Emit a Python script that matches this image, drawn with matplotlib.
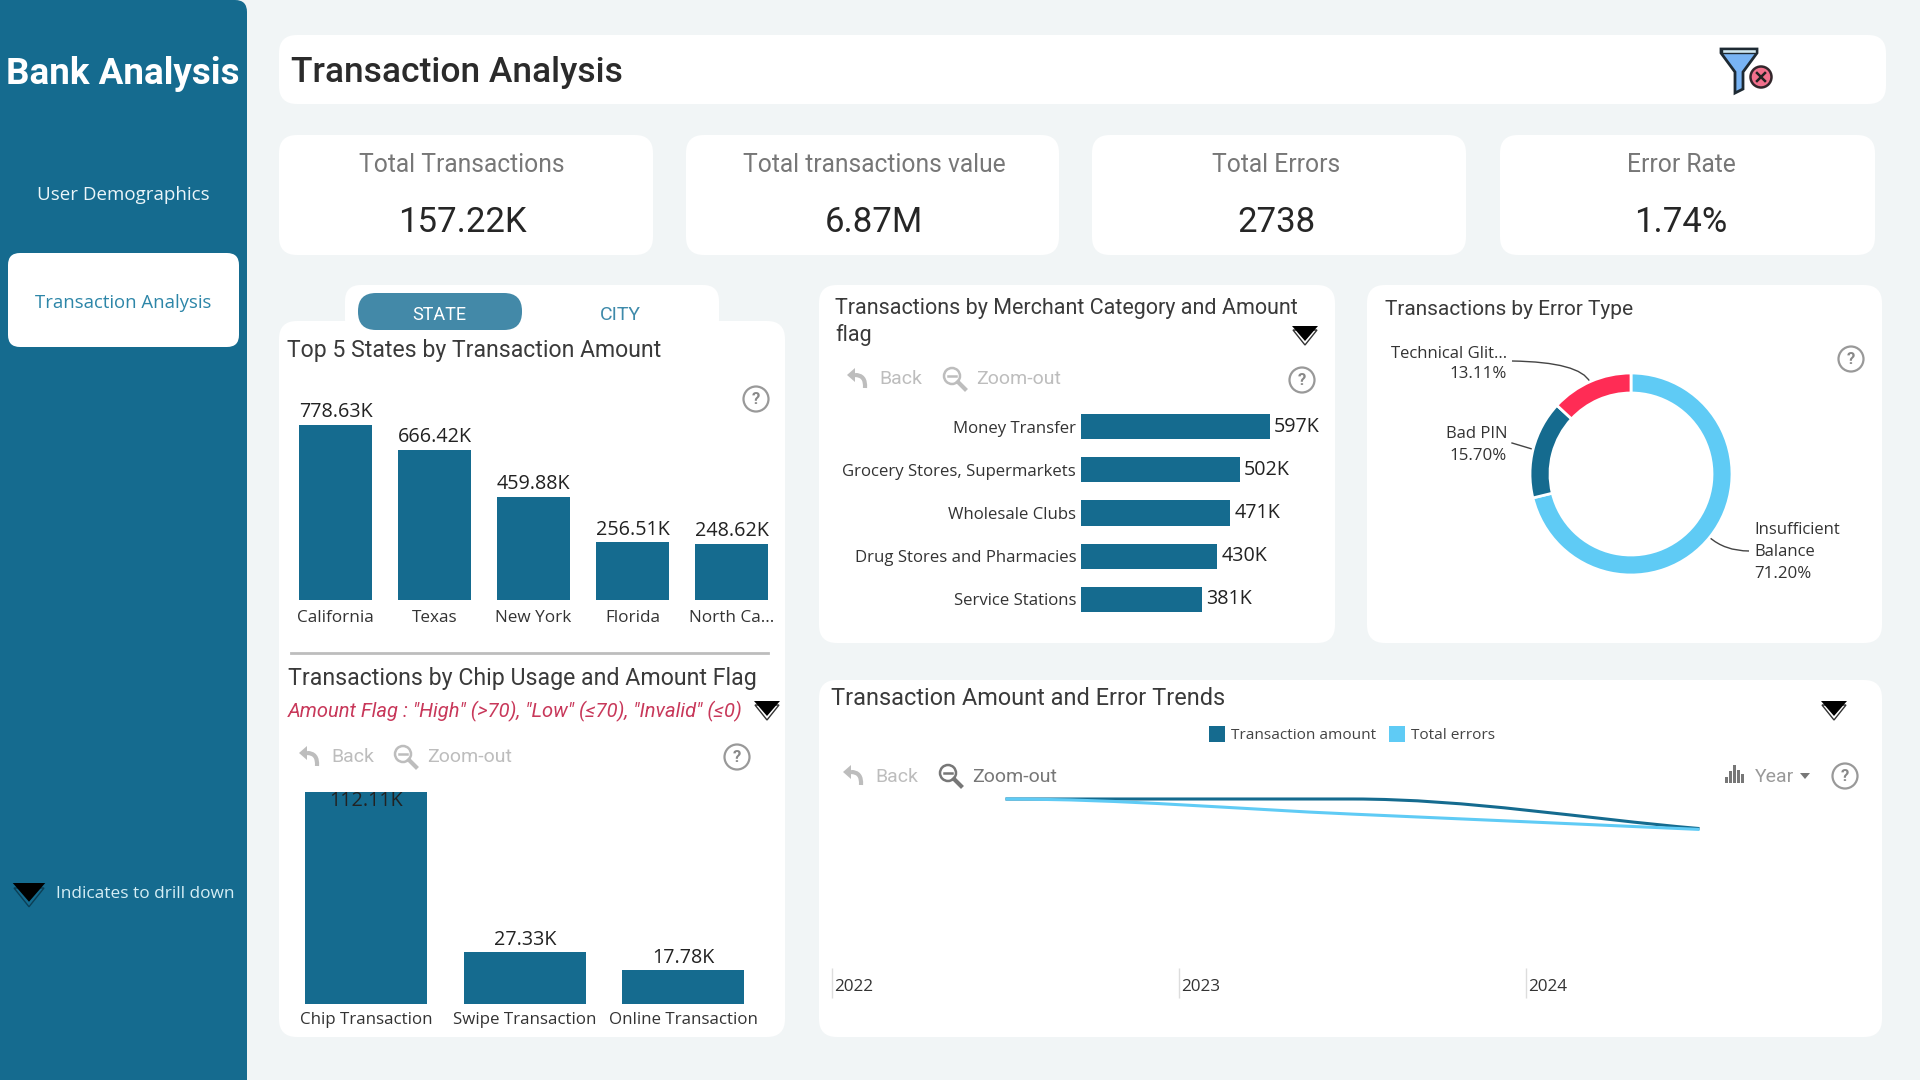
#bank transaction dashboard
import numpy
import matplotlib
matplotlib.use('Agg')
import matplotlib.pyplot as plt
from matplotlib.patches import FancyBboxPatch, Circle, Polygon, PathPatch, Rectangle
from matplotlib.path import Path

W = 1920
H = 1080
DARK = '#156B8F'
LIGHT = '#5FCBF5'
RED = '#FF2C55'
PAGE = '#F1F5F6'
SEGOE = 'Open Sans'
DIN = 'Roboto'

kpi_names = ['Total Transactions', 'Total transactions value', 'Total Errors', 'Error Rate']
kpi_values = ['157.22K', '6.87M', '2738', '1.74%']

states = ['California', 'Texas', 'New York', 'Florida', 'North Ca...']
state_amount = [778.63, 666.42, 459.88, 256.51, 248.62]

chip_types = ['Chip Transaction', 'Swipe Transaction', 'Online Transaction']
chip_count = [112.11, 27.33, 17.78]

merchants = ['Money Transfer', 'Grocery Stores, Supermarkets', 'Wholesale Clubs',
             'Drug Stores and Pharmacies', 'Service Stations']
merchant_count = [597, 502, 471, 430, 381]

error_types = ['Insufficient\nBalance', 'Bad PIN', 'Technical Glit...']
error_share = [71.20, 15.70, 13.11]

years = ['2022', '2023', '2024']
amount_by_year = [2.42, 2.42, 2.03]
errors_by_year = [995, 913, 830]

fig = plt.figure(figsize=(19.2, 10.8), dpi=100, facecolor=PAGE)

# full size layer in pixel units, y pointing down
bg = fig.add_axes([0, 0, 1, 1], zorder=0)
bg.set_xlim(0, W)
bg.set_ylim(H, 0)
bg.axis('off')


def px_axes(x0, y0, x1, y1, z=2):
    a = fig.add_axes([x0/W, 1-y1/H, (x1-x0)/W, (y1-y0)/H], zorder=z)
    a.patch.set_alpha(0)
    for s in a.spines.values():
        s.set_visible(False)
    return a


def card(x0, y0, x1, y1, r=18, color='white'):
    bg.add_patch(FancyBboxPatch((x0+r, y0+r), x1-x0-2*r, y1-y0-2*r,
                                boxstyle='round,pad=%d,rounding_size=%d' % (r, r),
                                fc=color, ec='none'))


def txt(x, y, s, size, color='#333333', ha='left', family=DIN, **kw):
    return bg.text(x, y+1.5, s, fontsize=size, color=color, ha=ha, va='center', family=family, **kw)


def help_icon(x, y):
    bg.add_patch(Circle((x, y), 12.5, fc='none', ec='#999999', lw=1.6))
    txt(x, y-1, '?', 12, '#888888', ha='center', fontweight='bold')


def drill_icon(x, y, s=1.0, under='white', edge='#333333'):
    bg.add_patch(Polygon([(x-12*s, y-4*s), (x+12*s, y-4*s), (x, y+11*s)], fc=under, ec=edge, lw=1))
    bg.add_patch(Polygon([(x-13*s, y-8*s), (x+13*s, y-8*s), (x, y+7*s)], fc='black', ec='none'))


def back_icon(x, y, color):
    bg.add_patch(Polygon([(x-10, y-3), (x-2, y-10), (x-2, y+4)], fc=color, ec='none'))
    p = Path([(x-2, y-3), (x+9, y-3), (x+8, y+10)], [Path.MOVETO, Path.CURVE3, Path.CURVE3])
    bg.add_patch(PathPatch(p, fc='none', ec=color, lw=3))


def zoom_icon(x, y, color):
    bg.add_patch(Circle((x-2, y-2), 8, fc='none', ec=color, lw=1.8))
    bg.plot([x-6, x+2], [y-2, y-2], color=color, lw=1.8)
    bg.plot([x+4, x+11], [y+4, y+11], color=color, lw=3)


def toolbar(x_back, x_zoom, y, back_color='#BDBDBD', zoom_color='#BDBDBD'):
    back_icon(x_back, y, back_color)
    txt(x_back+22, y, 'Back', 14, back_color)
    zoom_icon(x_zoom, y, zoom_color)
    txt(x_zoom+22, y, 'Zoom-out', 14, zoom_color)


# side panel
bg.add_patch(FancyBboxPatch((-20, 12), 255, 1200, boxstyle='round,pad=12,rounding_size=12', fc=DARK, ec='none'))
txt(123, 73, 'Bank Analysis', 26.5, 'white', ha='center', fontweight='bold')
txt(123, 193, 'User Demographics', 13.5, '#EAF5F9', ha='center', family=SEGOE)
card(8, 253, 239, 347, r=12)
txt(123, 302, 'Transaction Analysis', 13.3, '#2D86A8', ha='center', family=SEGOE)
drill_icon(29, 893, 1.25, under=DARK, edge='#0C3F55')
txt(56, 893, 'Indicates to drill down', 12.4, '#D5EEF5', family=SEGOE)

# page header with the clear filter button
card(279, 35, 1886, 104)
txt(291, 71, 'Transaction Analysis', 25.5, '#2B2B2B', fontweight='medium')
bg.add_patch(Polygon([(1721, 49), (1757, 49), (1757, 53), (1743, 72), (1743, 89), (1735, 93), (1735, 72), (1721, 53)],
                     fc='#78B4F5', ec='#1E2A33', lw=2))
bg.add_patch(Rectangle((1722, 49), 34, 4, fc='#CFE8F2', ec='#1E2A33', lw=1))
bg.add_patch(Circle((1761, 77), 10.5, fc='#F2708C', ec='#33262B', lw=1.8))
bg.plot([1757, 1765], [73, 81], color='#222222', lw=1.8)
bg.plot([1757, 1765], [81, 73], color='#222222', lw=1.8)

# KPI cards
kpi_left = [279, 686, 1092, 1500]
kpi_right = [653, 1059, 1466, 1875]
kpi_label_x = [462, 874, 1276, 1681]
for i in range(4):
    card(kpi_left[i], 135, kpi_right[i], 255)
    txt(kpi_label_x[i], 163, kpi_names[i], 17.7, '#777777', ha='center')
    txt(kpi_label_x[i], 221, kpi_values[i], 25, '#262626', ha='center')

# panels
card(279, 321, 785, 1037)
card(345, 285, 719, 336, r=16)
bg.add_patch(FancyBboxPatch((358, 293), 164, 37, boxstyle='round,pad=0,rounding_size=18', fc='#4389A8', ec='none'))
txt(439, 313, 'STATE', 13, 'white', ha='center')
txt(620, 313, 'CITY', 14, '#3E8AAA', ha='center')
card(819, 285, 1335, 643)
card(1367, 285, 1882, 643)
card(819, 680, 1882, 1037)

# top states
txt(287, 349, 'Top 5 States by Transaction Amount', 16.6, '#3A3A3A')
help_icon(756, 399)
ax = px_axes(286, 400, 781, 600)
ax.bar(range(5), state_amount, width=0.745, color=DARK)
ax.set_xlim(-0.5, 4.5)
ax.set_ylim(0, max(state_amount)*200/175)
ax.set_yticks([])
ax.set_xticks(range(5), states, fontsize=12.3, color='#333333', family=SEGOE)
ax.tick_params(axis='x', length=0, pad=7)
for i, v in enumerate(state_amount):
    ax.annotate('%.2fK' % v, (i, v), xytext=(0, 2), textcoords='offset points', ha='center', va='bottom',
                fontsize=14.2, color='#222222', family=SEGOE)

bg.plot([291, 768], [653, 653], color='#BDBDBD', lw=2)

# chip usage
txt(288, 677, 'Transactions by Chip Usage and Amount Flag', 16.7, '#3A3A3A')
txt(288, 710, 'Amount Flag : "High" (>70), "Low" (≤70), "Invalid" (≤0)', 14.5, '#C8385A', style='italic')
drill_icon(767, 709)
toolbar(309, 405, 756)
help_icon(737, 757)
ax = px_axes(287, 770, 762.5, 1004)
ax.bar(range(3), chip_count, width=0.77, color=DARK)
ax.set_xlim(-0.5, 2.5)
ax.set_ylim(0, max(chip_count)*234/212)
ax.set_yticks([])
ax.set_xticks(range(3), chip_types, fontsize=12.2, color='#333333', family=SEGOE)
ax.tick_params(axis='x', length=0, pad=6)
for i, v in enumerate(chip_count):
    # biggest bar has no room above it, its label sits on the bar
    if v == max(chip_count):
        off, va = (1, 'top')
    else:
        off, va = (2, 'bottom')
    ax.annotate('%.2fK' % v, (i, v), xytext=(0, off), textcoords='offset points', ha='center', va=va,
                fontsize=14.2, color='#222222', family=SEGOE)

# merchant categories
txt(835, 307, 'Transactions by Merchant Category and Amount', 15.5, '#3A3A3A')
txt(835, 333, 'flag', 15.5, '#3A3A3A')
drill_icon(1305, 334)
toolbar(857, 954, 378)
help_icon(1302, 380)
ax = px_axes(1081, 405, 1335, 621)
ax.barh(range(5), merchant_count, height=0.58, color=DARK)
ax.set_ylim(4.5, -0.5)
ax.set_xlim(0, max(merchant_count)*254/189)
ax.set_xticks([])
ax.set_yticks(range(5), merchants, fontsize=12.1, color='#333333', family=SEGOE)
ax.tick_params(axis='y', length=0, pad=3.5)
for i, v in enumerate(merchant_count):
    ax.annotate('%dK' % v, (v, i), xytext=(3, 0), textcoords='offset points', ha='left', va='center',
                fontsize=14.2, color='#222222', family=SEGOE)

# error types
txt(1385, 308, 'Transactions by Error Type', 15, '#3A3A3A')
help_icon(1851, 359)
ax = px_axes(1521, 364, 1741, 584)
ax.pie(error_share, colors=[LIGHT, DARK, RED], startangle=90, counterclock=False, radius=101,
       wedgeprops=dict(width=20, edgecolor='white', linewidth=2))
ax.set_xlim(-110, 110)
ax.set_ylim(-110, 110)
txt(1507, 352, error_types[2], 12, '#333333', ha='right', family=SEGOE)
txt(1507, 373, '%.2f%%' % error_share[2], 12.2, '#333333', ha='right', family=SEGOE)
txt(1507, 433, error_types[1], 12, '#333333', ha='right', family=SEGOE)
txt(1507, 455, '%.2f%%' % error_share[1], 12.2, '#333333', ha='right', family=SEGOE)
txt(1754, 528, error_types[0].split('\n')[0], 12, '#333333', family=SEGOE)
txt(1754, 550, error_types[0].split('\n')[1], 12, '#333333', family=SEGOE)
txt(1754, 573, '%.2f%%' % error_share[0], 12.2, '#333333', family=SEGOE)
bg.add_patch(PathPatch(Path([(1512, 361), (1580, 362), (1590, 382)], [Path.MOVETO, Path.CURVE3, Path.CURVE3]),
                       fc='none', ec='#444444', lw=1))
bg.plot([1512, 1532], [443, 449], color='#444444', lw=1)
bg.add_patch(PathPatch(Path([(1709, 537), (1725, 551), (1749, 551)], [Path.MOVETO, Path.CURVE3, Path.CURVE3]),
                       fc='none', ec='#444444', lw=1))

# yearly trend
txt(831, 697, 'Transaction Amount and Error Trends', 16.9, '#3A3A3A')
drill_icon(1834, 709)
bg.add_patch(Rectangle((1209, 726), 16, 16, fc=DARK, ec='none'))
txt(1231, 734, 'Transaction amount', 11.1, '#444444', family=SEGOE)
bg.add_patch(Rectangle((1389, 726), 16, 16, fc=LIGHT, ec='none'))
txt(1411, 734, 'Total errors', 11.1, '#444444', family=SEGOE)
toolbar(853, 950, 775, zoom_color='#777777')
for i in range(5):
    bg.add_patch(Rectangle((1725+i*4, 782-[6, 12, 18, 13, 9][i]+1), 2.5, [6, 12, 18, 13, 9][i], fc='#777777', ec='none'))
txt(1755, 775, 'Year', 14, '#999999')
bg.add_patch(Polygon([(1800, 773), (1810, 773), (1805, 779)], fc='#777777', ec='none'))
help_icon(1845, 776)


def smooth_path(xs, ys):
    # monotone cubic segments through the points, flat at the start
    xs = numpy.array(xs, dtype=float)
    ys = numpy.array(ys, dtype=float)
    d = numpy.diff(ys)/numpy.diff(xs)
    m = [0.0]
    for k in range(1, len(d)):
        m.append(0.0 if d[k-1]*d[k] <= 0 else 2*d[k-1]*d[k]/(d[k-1]+d[k]))
    m.append(d[-1])
    verts = [(xs[0], ys[0])]
    codes = [Path.MOVETO]
    for k in range(len(d)):
        h = xs[k+1]-xs[k]
        verts += [(xs[k]+h/3, ys[k]+m[k]*h/3), (xs[k+1]-h/3, ys[k+1]-m[k+1]*h/3), (xs[k+1], ys[k+1])]
        codes += [Path.CURVE4]*3
    return Path(verts, codes)


ax = px_axes(832, 790, 1873, 982.5)
ax.set_xlim(-0.5, 2.5)
ax.set_ylim(0, max(amount_by_year)*192.5/183.5)
ax.set_yticks([])
ax.set_xticks([-0.5, 0.5, 1.5], ['', '', ''])
ax.tick_params(axis='x', direction='inout', length=20.9, color='#DDDDDD', width=1)
ax.add_patch(PathPatch(smooth_path(range(3), amount_by_year), fc='none', ec=DARK, lw=2.2))
for i, y in enumerate(years):
    ax.annotate(y, (i-0.5, 0), xytext=(1.5, -3), textcoords='offset points', ha='left', va='center',
                annotation_clip=False, fontsize=12.3, color='#333333', family=SEGOE)
ax2 = ax.twinx()
ax2.set_zorder(3)
ax2.patch.set_alpha(0)
for s in ax2.spines.values():
    s.set_visible(False)
ax2.set_ylim(0, max(errors_by_year)*192.5/183.5)
ax2.set_yticks([])
ax2.add_patch(PathPatch(smooth_path(range(3), errors_by_year), fc='none', ec=LIGHT, lw=2.2))

fig.savefig('out.png', dpi=100, facecolor=PAGE)
